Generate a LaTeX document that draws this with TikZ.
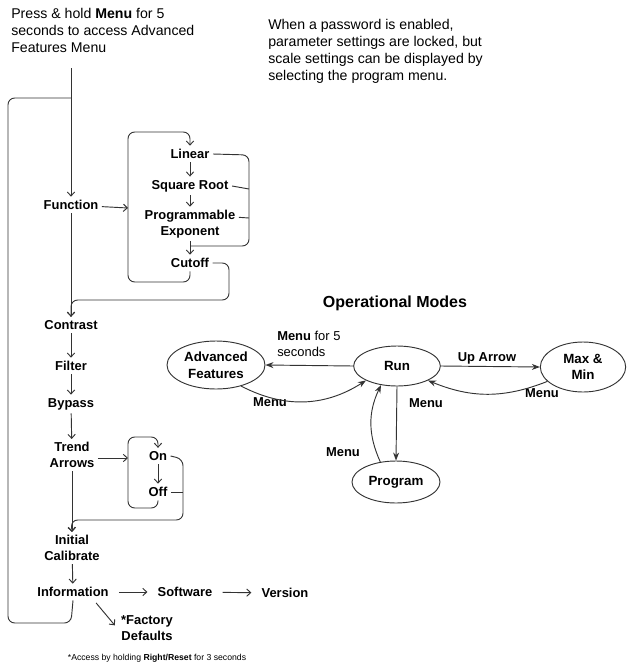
\documentclass[tikz,border=0pt]{standalone}
\usepackage{fontspec}
\setmainfont{Liberation Sans}
\usetikzlibrary{arrows.meta,shapes.geometric}

\begin{document}
\begin{tikzpicture}[x=0.75pt, y=-0.75pt, % pixel grid, y downwards
	> = {Stealth[length=6pt,width=4.5pt]}, % arrow head style
	line/.style={line width=0.7pt, draw=black!80, rounded corners=5pt},
	flow/.style={line, ->, >={Straight Barb[length=3pt,width=5.5pt]}},
	item/.style={font=\fontsize{9.7}{11.5}\selectfont\bfseries, align=center, inner sep=2.5pt},
	note/.style={font=\fontsize{10.6}{12.75}\selectfont, align=left, anchor=north west, inner sep=0pt},
	mode/.style={ellipse, draw=black!80, line width=0.7pt, inner sep=0pt, align=center, font=\fontsize{10}{12.5}\selectfont\bfseries},
	lbl/.style={font=\fontsize{9.7}{12}\selectfont\bfseries, inner sep=0pt, align=left}]
	\useasboundingbox (0,0) rectangle (627,664);

	% notes
	\node[note] (press) at (11,8) {Press \& hold \textbf{Menu} for 5\\seconds to access Advanced\\Features Menu};
	\node[note] (password) at (268,19) {When a password is enabled,\\parameter settings are locked, but\\scale settings can be displayed by\\selecting the program menu.};

	% advanced features menu
	\coordinate (start) at (71,68);
	\coordinate (loopin) at (71,98);
	\node[item] (function) at (71,205) {Function};
	\coordinate (fnin) at (128,208);
	\node[item] (linear) at (190,154) {Linear};
	\node[item] (sqroot) at (190,186) {Square Root};
	\node[item] (progexp) at (190,224) {Programmable\\Exponent};
	\node[item] (cutoff) at (190,263) {Cutoff};
	\node[item] (contrast) at (71,325) {Contrast};
	\node[item] (filter) at (71,366) {Filter};
	\node[item] (bypass) at (71,404) {Bypass};
	\node[item] (trend) at (72,455) {Trend\\Arrows};
	\coordinate (trin) at (128,458);
	\node[item] (on) at (158,456) {On};
	\node[item] (off) at (158,492) {Off};
	\node[item] (initcal) at (72,548) {Initial\\Calibrate};
	\node[item] (info) at (73,592) {Information};
	\node[item] (software) at (185,592) {Software};
	\node[item] (version) at (285,593) {Version};
	\node[item] (factory) at (147,628) {*Factory\\Defaults};
	\node[font=\fontsize{6.5}{8}\selectfont, inner sep=0pt] (footnote) at (157,658) {*Access by holding \textbf{Right/Reset} for 3 seconds};

	\draw[flow] (start) -- (function);
	\draw[flow] (function) -- (fnin);
	\draw[flow] (linear) -- (sqroot);
	\draw[flow] (sqroot) -- (progexp);
	\draw[flow] (progexp) -- (cutoff);
	\draw[flow] (cutoff.south) -- (190,282) -- (128,282) -- (128,132) -- (190,132) -- (linear.north);
	\draw[line] (linear.east) -- (249,155) -- (249,246) -- (190,246);
	\draw[line] (sqroot.east) -- (249,189);
	\draw[line] ([yshift=5pt]progexp.east) -- (249,218);
	\draw[flow] (cutoff.east) -- (229,263) -- (229,300) -- (71,300) -- (contrast.north);
	\draw[flow] (function) -- (contrast);
	\draw[flow] (contrast) -- (filter);
	\draw[flow] (filter) -- (bypass);
	\draw[flow] (bypass) -- (trend);
	\draw[flow] (trend.east |- trin) -- (trin);
	\draw[flow] (on) -- (off);
	\draw[flow] (off.south) -- (158,508) -- (128,508) -- (128,437) -- (158,437) -- (on.north);
	\draw[line] (off.east) -- (183,492);
	\draw[flow] (on.east) -- (183,459) -- (183,520) -- (71,520) -- (initcal.north);
	\draw[flow] (trend) -- (initcal);
	\draw[flow] (initcal) -- (info);
	\draw[flow, shorten <=5pt, shorten >=5pt] (info) -- (software);
	\draw[flow, shorten <=5pt, shorten >=5pt] (software) -- (version);
	\draw[flow] ([xshift=-12pt,yshift=-2pt]info.south east) -- ([xshift=-2pt,yshift=2pt]factory.west);
	\draw[line] (info.south) -- (71,623) -- (8,623) -- (8,98) -- (loopin);

	% operational modes
	\node[font=\fontsize{12}{14}\selectfont\bfseries] (opmodes) at (395,303) {Operational Modes};
	\node[mode, minimum width=73.5pt, minimum height=36pt] (adv) at (216,365) {Advanced\\Features};
	\node[mode, minimum width=65pt, minimum height=30pt] (run) at (397,366) {Run};
	\node[mode, minimum width=64pt, minimum height=37.5pt] (maxmin) at (583,367) {Max \&\\Min};
	\node[mode, minimum width=66pt, minimum height=31.5pt] (program) at (396,482) {Program};

	\node[lbl, anchor=west] (lbladv) at (277,344) {Menu {\mdseries for 5}\\{\mdseries seconds}};
	\node[lbl] (lblrun) at (270,402) {Menu};
	\node[lbl] (lblup) at (487,358) {Up Arrow};
	\node[lbl] (lblmax) at (542,393) {Menu};
	\node[lbl] (lblprog) at (426,403) {Menu};
	\node[lbl] (lblback) at (343,452) {Menu};

	\draw[line, ->] (run.west) -- (adv.east);
	\draw[line, ->] (adv.-40) to[bend right=30] (run.205);
	\draw[line, ->] (run.east) -- (maxmin.west);
	\draw[line, ->] (maxmin.202) to[bend left=22] (run.-25);
	\draw[line, ->] (run.south) -- (program.north);
	\draw[line, ->] (program.128) to[bend left=25] (run.-130);
\end{tikzpicture}
\end{document}
